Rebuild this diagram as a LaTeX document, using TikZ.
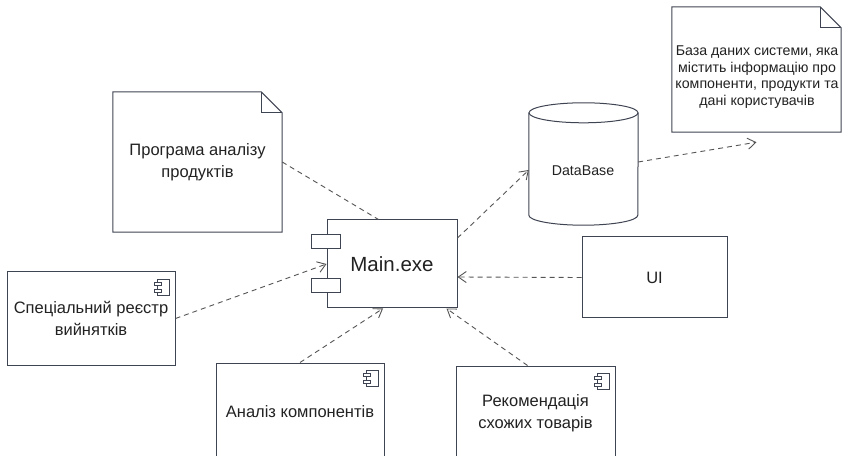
\documentclass[tikz,border=0pt]{standalone}
\usepackage{fontspec}
\setmainfont{Liberation Sans}
\usetikzlibrary{arrows.meta,calc}
\definecolor{edgecol}{HTML}{3F4452}
\definecolor{depcol}{HTML}{555555}
\definecolor{textcol}{HTML}{222222}
\begin{document}
\begin{tikzpicture}[x=1pt,y=1pt,
  boxline/.style={draw=edgecol, line width=1pt},
  dep/.style={draw=depcol, line width=0.9pt, dash pattern=on 5pt off 4pt, -{Straight Barb[length=8pt,width=11pt]}},
  lnk/.style={draw=depcol, line width=0.9pt, dash pattern=on 5pt off 4pt},
  txt/.style={text=textcol, font=\fontsize{16.5}{22}\selectfont, align=center, inner sep=0pt},
  notetxt/.style={text=textcol, font=\fontsize{14.2}{16.7}\selectfont, align=center, inner sep=0pt},
  compicon/.pic={
    \draw[line width=0.8pt, draw=edgecol] (-18,-8) rectangle (-6,-24);
    \draw[line width=0.8pt, draw=edgecol, fill=white] (-21,-11) rectangle (-14,-14) (-21,-18) rectangle (-14,-21);
  }]
\useasboundingbox (0,0) rectangle (842,455);
\clip (0,0) rectangle (842,455);
\fill[white] (0,0) rectangle (842,455);

% note: program
\node[txt, minimum width=169, minimum height=140] (prog) at (197.5,293) {Програма аналізу\\продуктів};
\draw[boxline] (prog.north west) -- ([xshift=-21]prog.north east) -- ([yshift=-21]prog.north east) -- (prog.south east) -- (prog.south west) -- cycle;
\draw[boxline] ([xshift=-21]prog.north east) |- ([yshift=-21]prog.north east);

% main component
\node[boxline, txt, font=\fontsize{20.5}{24}\selectfont, minimum width=130, minimum height=88] (main) at (392,191) {Main.exe};
\draw[boxline, fill=white] ([shift={(-15,-15)}]main.north west) rectangle ([shift={(14,-29)}]main.north west);
\draw[boxline, fill=white] ([shift={(-15,-59)}]main.north west) rectangle ([shift={(14,-73)}]main.north west);

% exceptions registry
\node[boxline, txt, minimum width=168, minimum height=93] (spec) at (91,136.5) {Спеціальний реєстр\\вийнятків};
\pic at (spec.north east) {compicon};

% analysis of components
\node[boxline, txt, minimum width=168, minimum height=98] (anal) at (300,43) {Аналіз компонентів};
\pic at (anal.north east) {compicon};

% recommendations
\node[boxline, txt, minimum width=159, minimum height=94] (recom) at (535.5,42) {Рекомендація\\схожих товарів};
\pic at (recom.north east) {compicon};

% UI
\node[boxline, txt, minimum width=145, minimum height=81] (ui) at (654.5,177.5) {UI};

% database cylinder
\node[minimum width=109, minimum height=122, inner sep=0pt] (db) at (583.5,291) {};
\draw[boxline] ([yshift=-10]db.north west) -- ([yshift=10]db.south west)
  arc[start angle=180, end angle=360, x radius=54.5, y radius=10] -- ([yshift=-10]db.north east);
\draw[boxline] ([yshift=-10]db.north) ellipse [x radius=54.5, y radius=10];
\node[txt, font=\fontsize{14.2}{17}\selectfont] (dbtxt) at (583,284) {DataBase};

% database note
\node[minimum width=169, minimum height=125, inner sep=0pt] (dbnote) at (756.5,385.5) {};
\draw[boxline] (dbnote.north west) -- ([xshift=-21]dbnote.north east) -- ([yshift=-21]dbnote.north east) -- (dbnote.south east) -- (dbnote.south west) -- cycle;
\draw[boxline] ([xshift=-21]dbnote.north east) |- ([yshift=-21]dbnote.north east);
\node[notetxt] (dbnotetxt) at (757,378) {База даних системи, яка\\містить інформацію про\\компоненти, продукти та\\дані користувачів};

% connectors
\draw[lnk] (prog.east) -- ([xshift=52]main.north west);
\draw[dep] (spec.east) -- (main.west);
\draw[dep] (ui.west) -- ([yshift=-13]main.east);
\draw[dep] (anal.north) -- ([xshift=-9]main.south);
\draw[dep] ([xshift=-8]recom.north) -- ([xshift=-11]main.south east);
\draw[dep] ([yshift=26]main.east) -- ([yshift=-6]db.west);
\draw[dep] ([yshift=2]db.east) -- ([yshift=-10]dbnote.south);
\end{tikzpicture}
\end{document}
